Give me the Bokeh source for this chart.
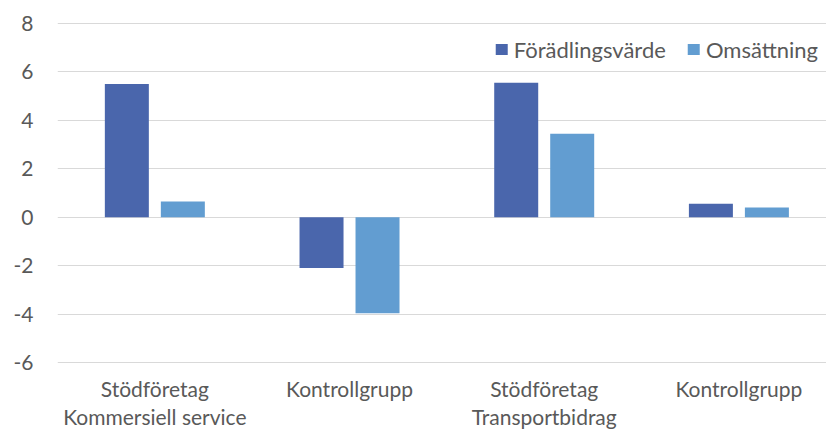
from bokeh.plotting import figure
from bokeh.models import Range1d, FixedTicker, ColumnDataSource, Legend, LegendItem
from bokeh.transform import dodge
from bokeh.embed import file_html
from bokeh.resources import INLINE

# ---- data ----
categories = ["Stödföretag\nKommersiell service", "Kontrollgrupp",
              "Stödföretag\nTransportbidrag", "Kontrollgrupp"]
foradlingsvarde = [5.50, -2.10, 5.55, 0.56]
omsattning = [0.65, -3.96, 3.45, 0.40]
series_names = ["Förädlingsvärde", "Omsättning"]
y_ticks = [-6, -4, -2, 0, 2, 4, 6, 8]

FONT = "Lato"
TXT = "#595959"
C1 = "#4A66AC"
C2 = "#629DD1"

xpos = [i + 0.5 for i in range(len(categories))]
src = ColumnDataSource(dict(x=xpos, f=foradlingsvarde, o=omsattning))

p = figure(width=826, height=432, output_backend="svg", toolbar_location=None,
           x_range=Range1d(0, 3.95), y_range=Range1d(-6.04, 8.04),
           min_border_left=57, min_border_top=22, min_border_right=0, min_border_bottom=68)
p.outline_line_color = None
p.background_fill_color = "white"
p.border_fill_color = "white"

bw = 0.226
r1 = p.vbar(x=dodge("x", -0.1438, range=p.x_range), top="f", bottom=0, width=bw,
            source=src, fill_color=C1, line_color=None)
r2 = p.vbar(x=dodge("x", 0.1438, range=p.x_range), top="o", bottom=0, width=bw,
            source=src, fill_color=C2, line_color=None)

# axes
p.xaxis.ticker = FixedTicker(ticks=xpos)
p.xaxis.major_label_overrides = {x: c for x, c in zip(xpos, categories)}
p.yaxis.ticker = FixedTicker(ticks=y_ticks)
p.yaxis.major_label_overrides = {t: str(t) for t in y_ticks}
for ax in (p.xaxis, p.yaxis):
    ax.axis_line_color = None
    ax.major_tick_line_color = None
    ax.minor_tick_line_color = None
    ax.major_tick_out = 0
    ax.major_tick_in = 0
    ax.major_label_text_font = FONT
    ax.major_label_text_font_size = "21px"
    ax.major_label_text_color = TXT
p.yaxis.major_label_standoff = 24
p.xaxis.major_label_standoff = 12
p.xaxis.major_label_text_line_height = 1.15

p.xgrid.grid_line_color = None
p.ygrid.ticker = FixedTicker(ticks=y_ticks)
p.ygrid.grid_line_color = "#D9D9D9"
p.ygrid.grid_line_width = 1

legend = Legend(items=[LegendItem(label=series_names[0], renderers=[r1]),
                       LegendItem(label=series_names[1], renderers=[r2])],
                orientation="horizontal", location="top_right",
                border_line_color=None, background_fill_alpha=0,
                label_text_font=FONT, label_text_font_size="22px", label_text_color=TXT,
                glyph_width=15, glyph_height=14, label_standoff=5, spacing=20,
                padding=4, margin=8, label_height=38)
p.add_layout(legend)

open("out.html", "w").write(file_html(p, INLINE))
